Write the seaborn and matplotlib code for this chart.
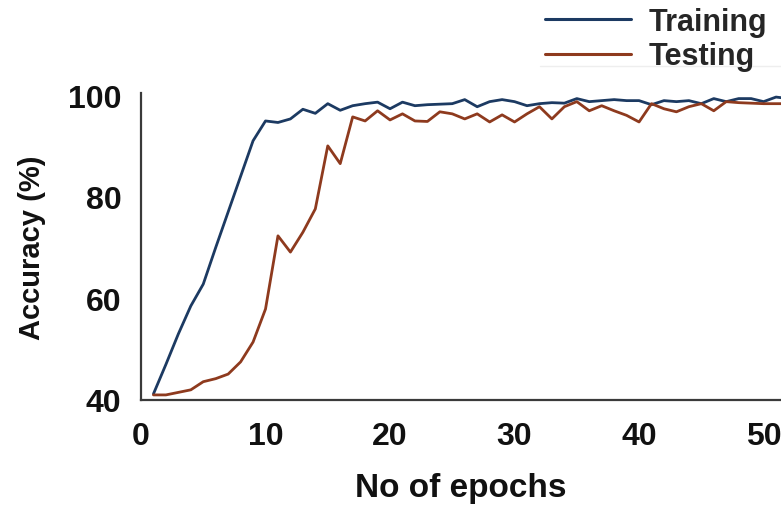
import numpy as np
import pandas as pd
import matplotlib
matplotlib.use("Agg")
import matplotlib.pyplot as plt
import seaborn as sns

# Accuracy per epoch
epochs = list(range(1, 53))
training = [41.2, 47.0, 53.0, 58.5, 62.8, 70.0, 77.0, 84.0, 91.0, 94.9,
            94.6, 95.3, 97.2, 96.4, 98.3, 97.0, 97.9, 98.3, 98.6, 97.3,
            98.6, 97.9, 98.1, 98.2, 98.3, 99.1, 97.7, 98.7, 99.1, 98.7,
            97.9, 98.3, 98.5, 98.4, 99.3, 98.7, 98.9, 99.1, 98.9, 98.9,
            98.1, 98.9, 98.7, 98.9, 98.3, 99.3, 98.7, 99.3, 99.3, 98.7,
            99.6, 99.3]
testing = [41.0, 41.0, 41.5, 42.0, 43.6, 44.2, 45.1, 47.5, 51.4, 57.9,
           72.3, 69.1, 73.0, 77.6, 90.0, 86.5, 95.7, 94.9, 96.9, 95.1,
           96.3, 94.9, 94.8, 96.7, 96.3, 95.3, 96.3, 94.7, 96.1, 94.7,
           96.3, 97.7, 95.3, 97.7, 98.7, 96.9, 97.9, 96.9, 96.0, 94.7,
           98.3, 97.3, 96.7, 97.7, 98.3, 96.9, 98.7, 98.5, 98.4, 98.3,
           98.3, 98.3]
series_names = ["Training", "Testing"]
series_colors = ["#1c3a62", "#8e3a1e"]

x_ticks = [0, 10, 20, 30, 40, 50]
y_ticks = [40, 60, 80, 100]

df = pd.DataFrame({
    "epoch": epochs * 2,
    "accuracy": training + testing,
    "series": [series_names[0]] * len(epochs) + [series_names[1]] * len(epochs),
})

sns.set_theme(style="white")
plt.rcParams["font.family"] = ["Liberation Sans", "DejaVu Sans"]
plt.rcParams["font.weight"] = "bold"

fig = plt.figure(figsize=(7.81, 5.06), dpi=100)
W, H = 781, 506
ax_left, ax_right, ax_bottom, ax_top = 141, 781, 401, 94
ax = fig.add_axes([ax_left / W, (H - ax_bottom) / H,
                   (ax_right - ax_left) / W, (ax_bottom - ax_top) / H])

sns.lineplot(data=df, x="epoch", y="accuracy", hue="series",
             palette=dict(zip(series_names, series_colors)),
             linewidth=2.0, ax=ax, legend=False)

ax.set_xlim(0, 51.4)
ax.set_ylim(40, 100.4)
ax.set_xticks(x_ticks)
ax.set_yticks(y_ticks)
ax.tick_params(axis="both", length=0, colors="#111111")
ax.tick_params(axis="x", pad=15, labelsize=23)
ax.tick_params(axis="y", pad=14, labelsize=23)
for lab in ax.get_xticklabels() + ax.get_yticklabels():
    lab.set_fontweight("bold")

for side in ["top", "right"]:
    ax.spines[side].set_visible(False)
for side in ["left", "bottom"]:
    ax.spines[side].set_color("#3a3a3a")
    ax.spines[side].set_linewidth(1.6)

ax.set_xlabel("No of epochs", fontsize=24, fontweight="bold", color="#111111", labelpad=15)
ax.set_ylabel("Accuracy (%)", fontsize=21, fontweight="bold", color="#111111", labelpad=16)

handles = [plt.Line2D([], [], color=c, linewidth=2.2) for c in series_colors]
fig.legend(handles, series_names, loc="upper left",
           bbox_to_anchor=(545 / W, (H - 8) / H), frameon=False,
           borderpad=0, borderaxespad=0, handlelength=2.8, handletextpad=0.6,
           labelspacing=0.14, prop={"size": 22, "weight": "bold"})

# faint rule under the legend
fig.add_artist(plt.Line2D([540 / W, 1.0], [(H - 67) / H] * 2,
                          color="#eeeeee", linewidth=1.0))

fig.savefig("out.png", dpi=100)
